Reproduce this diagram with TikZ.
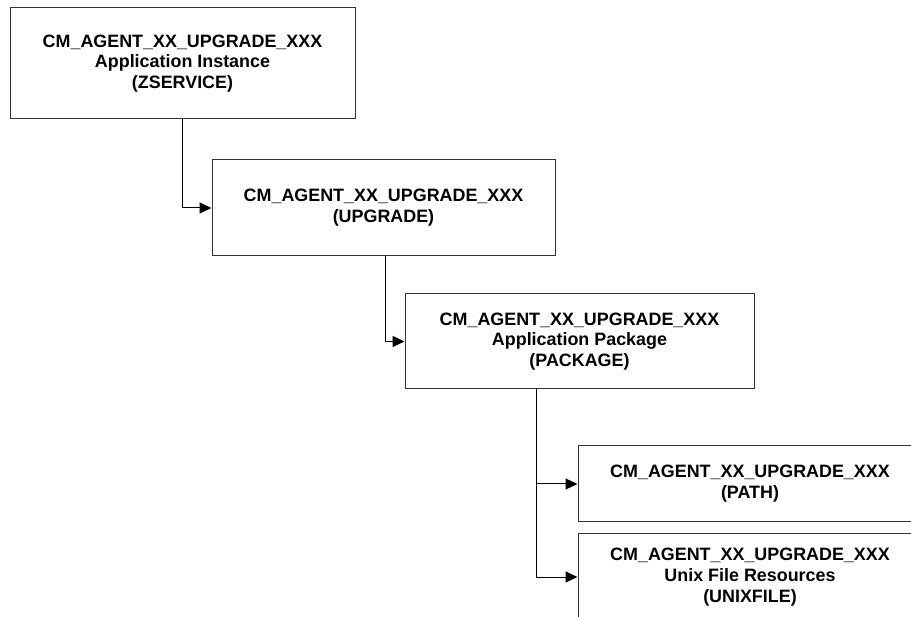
\documentclass[tikz,border=0pt]{standalone}
\usepackage{fontspec}
\setmainfont{Liberation Sans}
\usetikzlibrary{arrows.meta,calc}
\tikzset{
  box/.style={draw=black!80, line width=1pt, rectangle, align=center, inner sep=0pt,
    font=\bfseries\fontsize{17.9}{20.8}\selectfont},
  conn/.style={draw=black, line width=1pt, -{Triangle[length=12pt,width=11pt]}}
}
\begin{document}
\begin{tikzpicture}[x=1pt,y=-1pt]
\useasboundingbox (0,0) rectangle (911,617);
\clip (0,0) rectangle (911,617);
\node[box, minimum width=345pt, minimum height=111pt] (b1) at (182.5,63.5)
  {CM\_AGENT\_XX\_UPGRADE\_XXX\\Application Instance\\(ZSERVICE)};
\node[box, minimum width=343pt, minimum height=96pt] (b2) at (383.5,208)
  {CM\_AGENT\_XX\_UPGRADE\_XXX\\(UPGRADE)};
\node[box, minimum width=349pt, minimum height=95pt] (b3) at (579.5,341.5)
  {CM\_AGENT\_XX\_UPGRADE\_XXX\\Application Package\\(PACKAGE)};
\node[box, minimum width=344pt, minimum height=76pt] (b4) at (750,484)
  {CM\_AGENT\_XX\_UPGRADE\_XXX\\(PATH)};
\node[box, minimum width=344pt, minimum height=86pt] (b5) at (750,577)
  {CM\_AGENT\_XX\_UPGRADE\_XXX\\Unix File Resources\\(UNIXFILE)};
\coordinate (s3) at ($(b3.south west)+(132,0)$);
\draw[conn] (b1.south) |- (b2.west);
\draw[conn] ($(b2.south)+(1.5,0)$) |- (b3.west);
\draw[conn] (s3) |- (b4.west);
\draw[conn] (s3) |- (b5.west);
\end{tikzpicture}
\end{document}
